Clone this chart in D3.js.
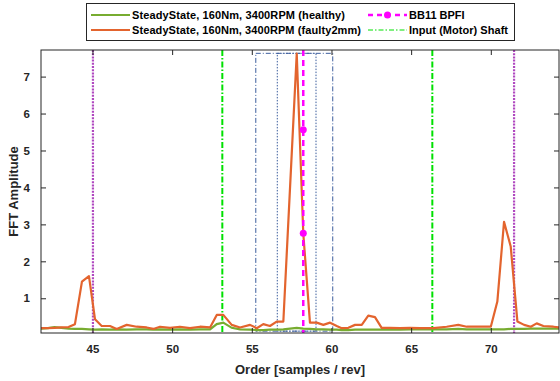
<!DOCTYPE html>
<html>
<head>
<meta charset="utf-8">
<script src="https://cdn.jsdelivr.net/npm/d3@7"></script>
<style>
	body { margin: 0; background: #fff; }
	svg { display: block; font-family: Arial, "Liberation Sans", sans-serif; }
</style>
</head>
<body>
<svg id="chart" width="560" height="381"></svg>
<script>
/* spectrum */
var orders = [41.77, 42.2, 42.62, 43.05, 43.5, 43.9, 44.34, 44.78, 45.16, 45.58, 46.1, 46.52, 47.15, 47.77,
	48.4, 48.82, 49.24, 49.87, 50.49, 51.12, 51.75, 52.38, 52.8, 53.21, 53.74, 54.26, 54.89, 55.31, 55.72,
	56.14, 56.56, 56.98, 57.82, 58.23, 58.65, 59.07, 59.49, 59.91, 60.33, 60.64, 61.06, 61.48, 61.9, 62.31,
	62.73, 63.15, 63.67, 64.3, 64.93, 65.56, 66.39, 67.23, 67.96, 68.49, 69.32, 70.0, 70.41, 70.83, 71.25,
	71.67, 72.09, 72.51, 72.88, 73.3, 73.93, 74.28];
var faulty = [0.19, 0.19, 0.2, 0.21, 0.22, 0.3, 1.45, 1.6, 0.43, 0.25, 0.25, 0.17, 0.28, 0.23,
	0.21, 0.17, 0.23, 0.2, 0.23, 0.19, 0.23, 0.21, 0.55, 0.55, 0.28, 0.21, 0.28, 0.19, 0.3,
	0.25, 0.37, 0.37, 7.62, 2.76, 0.34, 0.34, 0.28, 0.34, 0.25, 0.19, 0.2, 0.28, 0.28, 0.53,
	0.49, 0.2, 0.2, 0.19, 0.2, 0.19, 0.19, 0.23, 0.28, 0.23, 0.23, 0.23, 0.91, 3.07, 2.4,
	0.37, 0.28, 0.23, 0.32, 0.25, 0.23, 0.21];
var healthy = [0.18, 0.19, 0.22, 0.2, 0.18, 0.17, 0.17, 0.16, 0.15, 0.16, 0.15, 0.16, 0.15, 0.16,
	0.16, 0.15, 0.16, 0.15, 0.16, 0.15, 0.16, 0.16, 0.3, 0.34, 0.2, 0.16, 0.15, 0.14, 0.14,
	0.15, 0.15, 0.16, 0.2, 0.18, 0.17, 0.16, 0.16, 0.15, 0.15, 0.14, 0.14, 0.15, 0.15, 0.15,
	0.15, 0.15, 0.15, 0.15, 0.16, 0.16, 0.16, 0.16, 0.17, 0.16, 0.16, 0.16, 0.16, 0.16, 0.17,
	0.17, 0.17, 0.18, 0.18, 0.18, 0.18, 0.18];

var bpfiOrder = 58.23;
var bpfiMarks = [5.56, 2.76];
var shaftOrders = [53.15, 66.33];
var sideOrders = [45.03, 71.46];
var outerBand = [55.25, 60.08];
var innerBand = [56.6, 59.03];
var bandTop = 7.63, bandBottom = 0.11;

var xTicks = [45, 50, 55, 60, 65, 70];
var yTicks = [1, 2, 3, 4, 5, 6, 7];
var legendNames = ['SteadyState, 160Nm, 3400RPM (healthy)', 'SteadyState, 160Nm, 3400RPM (faulty2mm)',
	'BB11 BPFI', 'Input (Motor) Shaft'];

var m = { left: 41, right: 559, top: 50, bottom: 333 };
var axisColor = '#262626';

var svg = d3.select('#chart');
var x = d3.scaleLinear().domain([41.77, 74.28]).range([m.left, m.right]);
var y = d3.scaleLinear().domain([0.06, 7.72]).range([m.bottom, m.top]);

svg.append('defs').append('clipPath').attr('id', 'plot')
	.append('rect').attr('x', m.left).attr('y', m.top)
	.attr('width', m.right - m.left).attr('height', m.bottom - m.top);

var plot = svg.append('g').attr('clip-path', 'url(#plot)');

function vline(o, color, dash, width) {
	plot.append('line')
		.attr('x1', x(o)).attr('x2', x(o))
		.attr('y1', m.top).attr('y2', m.bottom)
		.attr('stroke', color).attr('stroke-width', width)
		.attr('stroke-dasharray', dash);
}

// dotted sideband lines, dash-dot shaft lines
sideOrders.forEach(o => vline(o, '#b048c0', '2,1.2', 2.2));
shaftOrders.forEach(o => vline(o, '#00e000', '6,2,1.5,2', 2));

// band boxes
function band(b, dash) {
	plot.append('rect')
		.attr('x', x(b[0])).attr('y', y(bandTop))
		.attr('width', x(b[1]) - x(b[0])).attr('height', y(bandBottom) - y(bandTop))
		.attr('fill', 'none').attr('stroke', '#3b5c9c').attr('stroke-width', 1)
		.attr('stroke-dasharray', dash);
}
band(outerBand, '5,2,1,2');
band(innerBand, '1.5,1.5');

var line = d3.line().x(d => x(d[0])).y(d => y(d[1]));

plot.append('path')
	.datum(orders.map((o, i) => [o, healthy[i]]))
	.attr('d', line).attr('fill', 'none')
	.attr('stroke', '#77ac30').attr('stroke-width', 2.2);

plot.append('path')
	.datum(orders.map((o, i) => [o, faulty[i]]))
	.attr('d', line).attr('fill', 'none')
	.attr('stroke', '#e3642e').attr('stroke-width', 2.2).attr('stroke-linejoin', 'round');

// BPFI marker line
vline(bpfiOrder, '#ff00ff', '6,4', 2.5);
plot.selectAll('circle.bpfi').data(bpfiMarks).enter()
	.append('circle').attr('class', 'bpfi')
	.attr('cx', x(bpfiOrder)).attr('cy', d => y(d)).attr('r', 3.5)
	.attr('fill', '#ff00ff');

// axes, MATLAB style: ticks inside, box all around
var fontTick = 'bold 11.5px Arial, "Liberation Sans", sans-serif';
svg.append('g').attr('transform', 'translate(0,' + m.bottom + ')')
	.call(d3.axisBottom(x).tickValues(xTicks).tickSizeInner(-5).tickSizeOuter(0).tickPadding(12))
	.call(g => g.select('.domain').remove());
svg.append('g').attr('transform', 'translate(0,' + m.top + ')')
	.call(d3.axisTop(x).tickValues(xTicks).tickSizeInner(-5).tickSizeOuter(0).tickFormat(''))
	.call(g => g.select('.domain').remove());
svg.append('g').attr('transform', 'translate(' + m.left + ',0)')
	.call(d3.axisLeft(y).tickValues(yTicks).tickSizeInner(-5).tickSizeOuter(0).tickPadding(11))
	.call(g => g.select('.domain').remove());
svg.append('g').attr('transform', 'translate(' + m.right + ',0)')
	.call(d3.axisRight(y).tickValues(yTicks).tickSizeInner(-5).tickSizeOuter(0).tickFormat(''))
	.call(g => g.select('.domain').remove());

svg.selectAll('.tick line').attr('stroke', axisColor);
svg.selectAll('.tick text').attr('fill', axisColor).style('font', fontTick);

svg.append('rect')
	.attr('x', m.left).attr('y', m.top)
	.attr('width', m.right - m.left).attr('height', m.bottom - m.top)
	.attr('fill', 'none').attr('stroke', axisColor).attr('stroke-width', 1);

svg.append('text')
	.attr('x', (m.left + m.right) / 2).attr('y', 374)
	.attr('text-anchor', 'middle').attr('fill', axisColor)
	.style('font', 'bold 13px Arial, "Liberation Sans", sans-serif')
	.text('Order [samples / rev]');

svg.append('text')
	.attr('transform', 'translate(18,' + ((m.top + m.bottom) / 2) + ') rotate(-90)')
	.attr('text-anchor', 'middle').attr('fill', axisColor)
	.style('font', 'bold 13px Arial, "Liberation Sans", sans-serif')
	.text('FFT Amplitude');

// legend
var lg = svg.append('g');
lg.append('rect').attr('x', 86.5).attr('y', 3.5).attr('width', 428).attr('height', 37)
	.attr('fill', '#fff').attr('stroke', axisColor).attr('stroke-width', 1);

var items = [
	{ name: legendNames[0], x0: 91, y0: 15, len: 213, color: '#77ac30', dash: null, width: 2 },
	{ name: legendNames[1], x0: 91, y0: 30, len: 229, color: '#e3642e', dash: null, width: 2 },
	{ name: legendNames[2], x0: 368, y0: 15, len: null, color: '#ff00ff', dash: '5,4', width: 2.5, marker: true },
	{ name: legendNames[3], x0: 368, y0: 30, len: 99, color: '#00e000', dash: '5,2,1.5,2', width: 1 }
];

items.forEach(function(it) {
	lg.append('line')
		.attr('x1', it.x0).attr('x2', it.x0 + 39)
		.attr('y1', it.y0).attr('y2', it.y0)
		.attr('stroke', it.color).attr('stroke-width', it.width)
		.attr('stroke-dasharray', it.dash);
	if (it.marker) {
		lg.append('circle').attr('cx', it.x0 + 19.5).attr('cy', it.y0).attr('r', 3.5).attr('fill', it.color);
	}
	lg.append('text')
		.attr('x', it.x0 + 41).attr('y', it.y0 + 4)
		.attr('fill', '#000')
		.attr('textLength', it.len).attr('lengthAdjust', 'spacing')
		.style('font', 'bold 11px Arial, "Liberation Sans", sans-serif')
		.text(it.name);
});
</script>
</body>
</html>
